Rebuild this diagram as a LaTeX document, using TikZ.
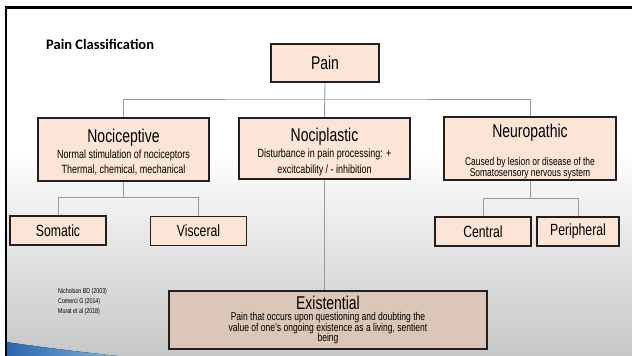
\documentclass[tikz,border=0pt]{standalone}
\usepackage{fontspec}
\setmainfont{Liberation Sans}
\newfontfamily\narrowfont{Liberation Sans}[FakeStretch=0.755]
\newfontfamily\titlefont{Carlito}
\usetikzlibrary{positioning,calc}
\definecolor{boxPeach}{HTML}{FCE4D6}
\definecolor{boxTan}{HTML}{DBC6B8}
\definecolor{boxLine}{HTML}{231F20}
\definecolor{linkGrey}{HTML}{9A9A9A}
\definecolor{swoopBlue}{HTML}{2A66AE}
\definecolor{swoopLight}{HTML}{7FB2E0}
% heading with a strut that sets its height
\newcommand{\headtxt}[2][0pt]{{\fontsize{18.5}{18.5}\selectfont\rule{0pt}{#1}#2}}
\newcommand{\boxfont}[2]{\narrowfont\fontsize{#1}{#2}\selectfont\lineskiplimit=-20pt}
\tikzset{
  catbox/.style={draw=boxLine, fill=boxPeach, line width=1.6pt,
        minimum width=171pt, minimum height=63pt, align=center,
        inner sep=0pt, font=\boxfont{11.9}{15}},
  leafbox/.style={draw=boxLine, fill=boxPeach, line width=1.6pt,
        minimum width=96pt, minimum height=29pt, inner sep=0pt,
        font=\narrowfont\fontsize{16.2}{17}\selectfont},
  link/.style={draw=linkGrey, line width=0.9pt},
  refs/.style={font=\narrowfont\fontsize{7}{10}\selectfont, align=left,
        inner sep=0pt, anchor=north west}
}

\begin{document}
\begin{tikzpicture}[x=1pt, y=-1pt]
\useasboundingbox (0,0) rectangle (632,356);
% slide background
\fill[white] (0,0) rectangle (632,356);
\shade[top color=white, bottom color=black!22] (6,150) rectangle (632,356);
\fill[left color=swoopBlue, right color=swoopLight]
  (6,342) .. controls (40,347) and (80,352) .. (118,356) -- (6,356) -- cycle;
\draw[line width=2.5pt] (6,356) -- (6,7.5) -- (632,7.5);

\node[font=\titlefont\bfseries\fontsize{14.5}{15}\selectfont, anchor=west,
      inner sep=0pt] (title) at (46,44) {Pain Classification};

% top level
\node[catbox, minimum width=108pt, minimum height=38pt] (pain) at (325,63) {\headtxt{Pain}};

% main classes
\node[catbox] (nocicep) at (123.5,149.5)
  {\headtxt[17.7pt]{Nociceptive}\\[1pt]Normal stimulation of nociceptors\\Thermal, chemical, mechanical};
\node[catbox, minimum height=61pt, font=\boxfont{11.9}{16}] (nociplast) at (324.5,148.5)
  {\headtxt[21.3pt]{Nociplastic}\\Disturbance in pain processing: +\\excitcability / - inhibition};
\node[catbox, minimum width=172pt, font=\boxfont{11.2}{10.8}] (neuro) at (530,148.5)
  {\headtxt[19.6pt]{Neuropathic}\\[16.7pt]Caused by lesion or disease of the\\Somatosensory nervous system};

% subclasses
\node[leafbox] (somatic)   at (58,230.5)  {Somatic};
\node[leafbox] (visceral)  at (198.5,231) {Visceral};
\node[leafbox] (central)   at (483,231.5) {Central};
\node[leafbox, minimum width=82pt] (periph) at (578,231.5) {Peripheral};

\node[catbox, fill=boxTan, minimum width=318pt, minimum height=58pt,
      font=\boxfont{11.3}{10.3}] (exist) at (328,320)
  {\headtxt{Existential}\\[0.7pt]Pain that occurs upon questioning and doubting the\\value of one’s ongoing existence as a living, sentient\\being};

\node[refs] (cites) at (58,288) {Nicholson BD (2003)\\Comerci G (2014)\\Murat et al (2018)};

% connectors
\coordinate (bus) at (325,99);
\draw[link] (pain.south) -- (nociplast.north);
\draw[link] (nocicep.north) |- (bus) -| (neuro.north);
\draw[link] (nociplast.south) -- (nociplast.south |- exist.north);
\draw[link] (nocicep.south) -- ++(0,16) coordinate (nbus);
\draw[link] (somatic.north) |- (nbus) -| (visceral.north);
\draw[link] (neuro.south) -- ++(0,18) coordinate (pbus);
\draw[link] (central.north) |- (pbus) -| (periph.north);
\end{tikzpicture}
\end{document}
